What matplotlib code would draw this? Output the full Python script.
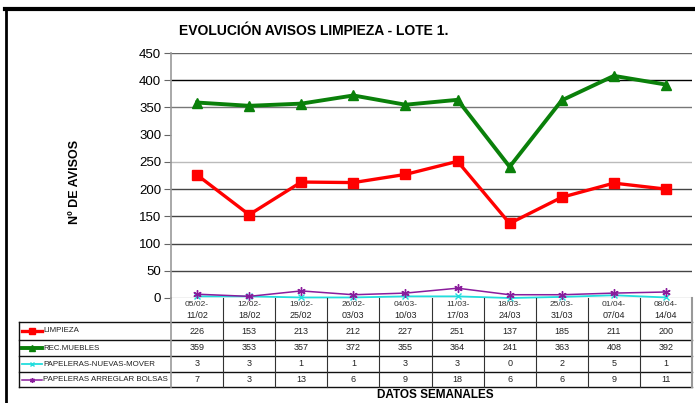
import matplotlib
matplotlib.use("Agg")
import matplotlib.pyplot as plt
from matplotlib.lines import Line2D
from matplotlib.transforms import blended_transform_factory

plt.rcParams['font.family'] = ['Liberation Sans', 'DejaVu Sans']

weeks_start = ["05/02-", "12/02-", "19/02-", "26/02-", "04/03-", "11/03-", "18/03-", "25/03-", "01/04-", "08/04-"]
weeks_end = ["11/02", "18/02", "25/02", "03/03", "10/03", "17/03", "24/03", "31/03", "07/04", "14/04"]

series_names = ["LIMPIEZA", "REC.MUEBLES", "PAPELERAS-NUEVAS-MOVER", "PAPELERAS ARREGLAR BOLSAS"]
limpieza = [226, 153, 213, 212, 227, 251, 137, 185, 211, 200]
rec_muebles = [359, 353, 357, 372, 355, 364, 241, 363, 408, 392]
papeleras_nuevas = [3, 3, 1, 1, 3, 3, 0, 2, 5, 1]
papeleras_arreglar = [7, 3, 13, 6, 9, 18, 6, 6, 9, 11]

yticks = [0, 50, 100, 150, 200, 250, 300, 350, 400, 450]

W, H = 695, 403
fig = plt.figure(figsize=(W / 100, H / 100), dpi=100)


def fx(px):
    return px / W


def fy(py):
    return 1 - py / H


ax = fig.add_axes([fx(171), fy(298), fx(692) - fx(171), fy(53) - fy(298)])
ax.set_xlim(-0.5, 9.5)
ax.set_ylim(0, 450)

grid_colors = {0: '#bbbbbb', 50: '#444444', 100: '#444444', 150: '#444444', 200: '#444444',
               250: '#bbbbbb', 300: None, 350: '#777777', 400: '#000000', 450: '#666666'}
for v in yticks:
    c = grid_colors[v]
    if c:
        ax.axhline(v, color=c, lw=1.0, zorder=0)

for s in ['top', 'right', 'bottom']:
    ax.spines[s].set_visible(False)
ax.spines['left'].set_color('#999999')
ax.spines['left'].set_linewidth(1.2)
ax.set_yticks(yticks)
ax.tick_params(axis='y', labelsize=9.5, length=5, color='#666666', pad=2)
ax.set_xticks([])

x = list(range(len(limpieza)))
styles = [
    dict(color='#ff0000', lw=2.4, marker='s', ms=7),
    dict(color='#0a800a', lw=2.8, marker='^', ms=7),
    dict(color='#22dddd', lw=1.3, marker='x', ms=5),
    dict(color='#8a1c9c', lw=1.1, marker=(6, 2, 0), ms=6),
]
data = [limpieza, rec_muebles, papeleras_nuevas, papeleras_arreglar]
for d, st in zip(data, styles):
    ax.plot(x, d, clip_on=False, zorder=3, **st)

# Title and labels
fig.text(fx(314), fy(31), "EVOLUCIÓN AVISOS LIMPIEZA - LOTE 1.", ha='center', va='center',
         fontsize=10, fontweight='bold')
fig.text(fx(75), fy(182), "Nº DE AVISOS", rotation=90, ha='center', va='center',
         fontsize=9, fontweight='bold')
fig.text(fx(435), fy(389), "DATOS SEMANALES", ha='center', va='top',
         fontsize=8.5, fontweight='bold')

# Data table
trans = blended_transform_factory(ax.transData, fig.transFigure)
row_lines = [298, 322, 340, 356, 372, 387]

for i in x:
    fig.text(i, fy(305), weeks_start[i], transform=trans, ha='center', va='center', fontsize=6, color='#333333')
    fig.text(i, fy(315), weeks_end[i], transform=trans, ha='center', va='center', fontsize=6.5, color='#222222')

for r, d in enumerate(data):
    yc = (row_lines[r + 1] + row_lines[r + 2]) / 2
    for i in x:
        fig.text(i, fy(yc), str(d[i]), transform=trans, ha='center', va='center', fontsize=6.5, color='#222222')
    fig.text(fx(43), fy(yc), series_names[r], ha='left', va='center', fontsize=5.7, color='#222222')
    st = styles[r]
    fig.add_artist(Line2D([fx(22), fx(42)], [fy(yc), fy(yc)], color=st['color'], lw=st['lw']))
    fig.add_artist(Line2D([fx(32)], [fy(yc)], color=st['color'], marker=st['marker'],
                          ms=st['ms'] * 0.6, lw=0))

for py in row_lines[1:]:
    fig.add_artist(Line2D([fx(19), fx(692)], [fy(py), fy(py)], color='#111111', lw=1.0))

for b in [i + 0.5 for i in x[:-1]]:
    fig.add_artist(Line2D([b, b], [fy(298), fy(387)], transform=trans, color='#333333', lw=0.8))
fig.add_artist(Line2D([fx(171), fx(171)], [fy(298), fy(387)], color='#999999', lw=1.2))
fig.add_artist(Line2D([fx(692), fx(692)], [fy(298), fy(387)], color='#999999', lw=1.5))
fig.add_artist(Line2D([fx(19), fx(19)], [fy(322), fy(387)], color='#111111', lw=1.0))

# Outer frame
fig.add_artist(Line2D([fx(5), fx(695)], [fy(8.5), fy(8.5)], color='black', lw=3))
fig.add_artist(Line2D([fx(6), fx(6)], [fy(8), fy(403)], color='black', lw=2))

fig.savefig("out.png", dpi=100)
